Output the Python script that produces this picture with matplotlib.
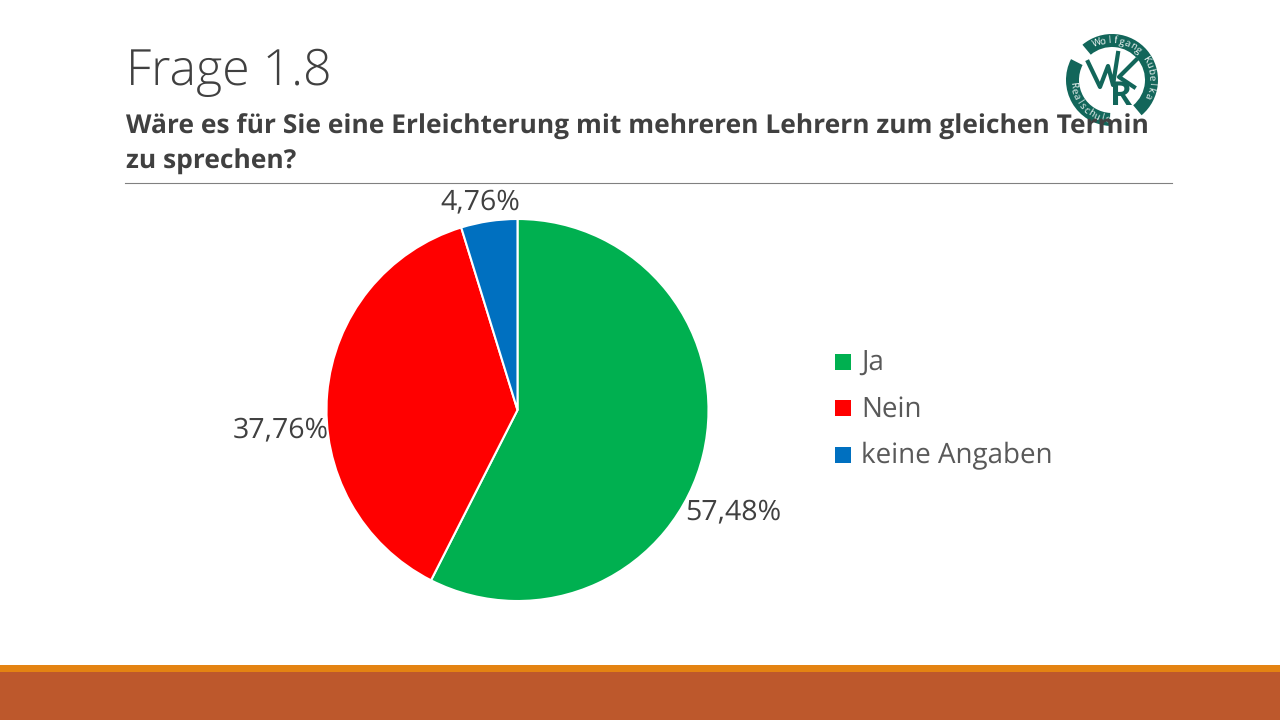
import numpy as np
import matplotlib
matplotlib.use('Agg')
import matplotlib.pyplot as plt
from matplotlib.patches import Rectangle, Wedge

labels = ['Ja', 'Nein', 'keine Angaben']
values = [57.48, 37.76, 4.76]
value_labels = ['57,48%', '37,76%', '4,76%']
colors = ['#00B050', '#FF0000', '#0070C0']

plt.rcParams['font.family'] = ['Open Sans', 'DejaVu Sans']
plt.rcParams['text.hinting'] = 'none'
dark = '#404040'
teal = '#12665A'

fig = plt.figure(figsize=(12.8, 7.2), dpi=100)
bg = fig.add_axes([0, 0, 1, 1])
bg.set_xlim(0, 1280)
bg.set_ylim(720, 0)
bg.axis('off')


def ring_text(text, start, step, radius, flip=False):
    # Buchstaben einzeln auf den Ring setzen
    for i, ch in enumerate(text):
        a = np.radians(start + i * step)
        x = 1112 + radius * np.cos(a)
        y = 80 - radius * np.sin(a)
        rot = np.degrees(a) + 90 if flip else np.degrees(a) - 90
        bg.text(x, y, ch, fontsize=7, color='white', ha='center', va='center', rotation=rot)


# Balken unten
bg.add_patch(Rectangle((0, 665), 1280, 7, color='#E48312', lw=0))
bg.add_patch(Rectangle((0, 672), 1280, 48, color='#BD582C', lw=0))

# Logo (y-Achse ist gedreht, daher negative Winkel)
bg.add_patch(Wedge((1112, 80), 46, -130, 50, width=13, color=teal, lw=0))
bg.add_patch(Wedge((1112, 80), 46, 93, 207, width=13, color=teal, lw=0))
ring_text('Wolfgang Kubelka', 112, -9, 39.5)
ring_text('Realschule', 187, 8.5, 39.5, flip=True)
bg.plot([1088, 1100, 1108, 1113, 1118], [62, 87, 66, 85, 53], color=teal, lw=3)
bg.plot([1136, 1119, 1134], [60, 77, 87], color=teal, lw=3)
bg.text(1121, 96, 'R', fontsize=24, color=teal, ha='center', va='center', fontweight='bold')

bg.text(126, 72, 'Frage 1.8', fontsize=36, color=dark, va='center', fontweight='light')
bg.text(126, 127, 'Wäre es für Sie eine Erleichterung mit mehreren Lehrern zum gleichen Termin',
        fontsize=19, color=dark, va='center', fontweight='bold')
bg.text(126, 162, 'zu sprechen?', fontsize=19, color=dark, va='center', fontweight='bold')
bg.plot([125, 1172], [182.5, 182.5], color='#808080', lw=0.8)

# Kreisdiagramm
ax = fig.add_axes([326.5 / 1280, 1 - 601 / 720, 382 / 1280, 382 / 720])
ax.pie(values, colors=colors, startangle=90, counterclock=False, radius=1,
       wedgeprops={'edgecolor': 'white', 'linewidth': 1.5})
ax.set_xlim(-1, 1)
ax.set_ylim(-1, 1)

bg.text(733, 512, value_labels[0], fontsize=20.5, color=dark, ha='center', va='center')
bg.text(281, 430, value_labels[1], fontsize=20.5, color=dark, ha='center', va='center')
bg.text(480, 202, value_labels[2], fontsize=20.5, color=dark, ha='center', va='center')

# Legende
for label, color, y in zip(labels, colors, [362, 408, 455]):
    bg.add_patch(Rectangle((835, y - 8), 16, 16, color=color, lw=0))
    bg.text(861, y + 1, label, fontsize=20, color='#595959', va='center')

fig.savefig('out.png', dpi=100)
